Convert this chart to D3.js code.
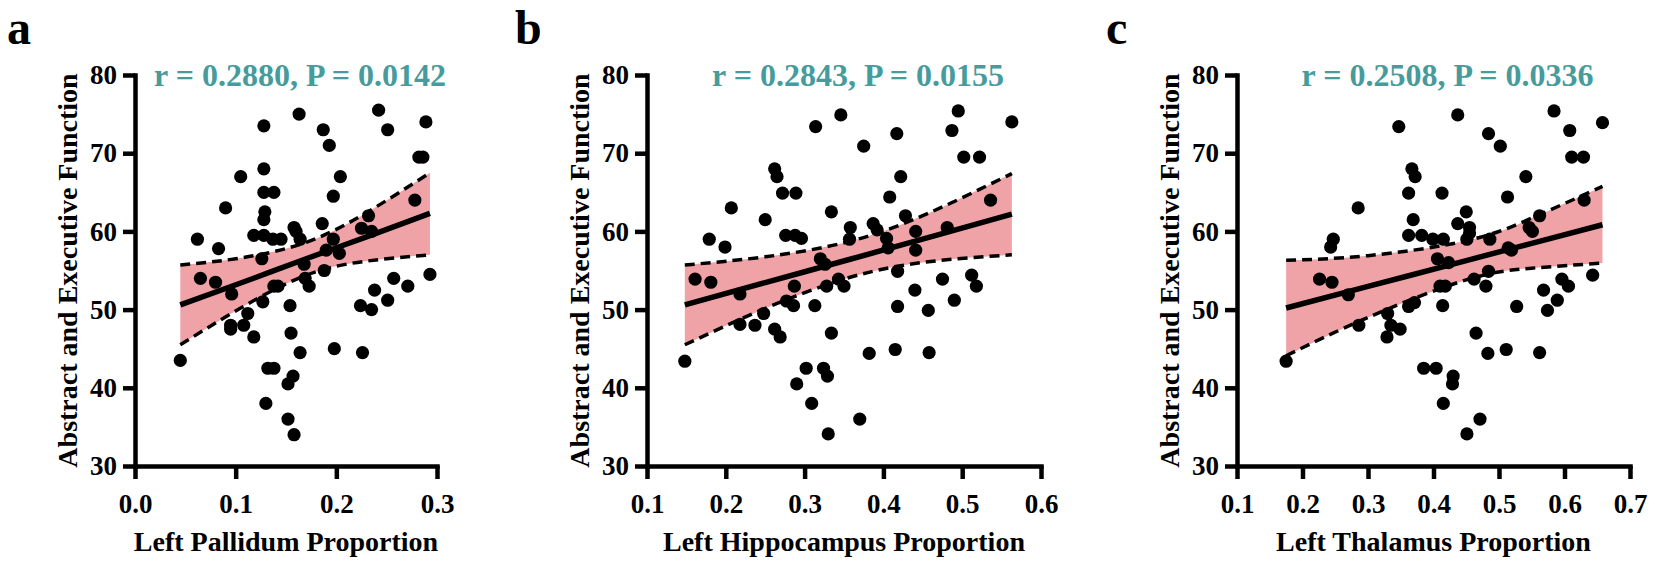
<!DOCTYPE html>
<html>
<head>
<meta charset="utf-8">
<script src="https://cdn.jsdelivr.net/npm/d3@7"></script>
<style>
  body { margin: 0; background: #fff; }
  svg { display: block; }
</style>
</head>
<body>
<div id="chart"></div>
<script>
'use strict'

// the data
const panelLetters = ['a', 'b', 'c']
const xTitles = ['Left Pallidum Proportion', 'Left Hippocampus Proportion', 'Left Thalamus Proportion']
const yTitle = 'Abstract and Executive Function'
const statLabels = ['r = 0.2880, P = 0.0142', 'r = 0.2843, P = 0.0155', 'r = 0.2508, P = 0.0336']
const yTicks = [30, 40, 50, 60, 70, 80]
const xTicks = [
    [0.0, 0.1, 0.2, 0.3],
    [0.1, 0.2, 0.3, 0.4, 0.5, 0.6],
    [0.1, 0.2, 0.3, 0.4, 0.5, 0.6, 0.7]
]

const pallidumX = [0.045, 0.062, 0.065, 0.083, 0.080, 0.090, 0.096, 0.095, 0.095, 0.105,
    0.108, 0.112, 0.118, 0.118, 0.126, 0.127, 0.128, 0.128, 0.128, 0.138,
    0.129, 0.128, 0.128, 0.137, 0.145, 0.130, 0.132, 0.138, 0.138, 0.142,
    0.154, 0.155, 0.152, 0.157, 0.152, 0.158, 0.164, 0.163, 0.158, 0.160,
    0.164, 0.168, 0.169, 0.173, 0.187, 0.193, 0.204, 0.197, 0.186, 0.197,
    0.190, 0.203, 0.188, 0.198, 0.225, 0.232, 0.235, 0.224, 0.226, 0.235,
    0.238, 0.251, 0.257, 0.271, 0.242, 0.251, 0.289, 0.282, 0.286, 0.278, 0.293]
const pallidumY = [43.5, 59.0, 54.0, 57.8, 53.5, 63.0, 52.0, 48.0, 47.5, 67.0,
    48.0, 49.5, 46.5, 59.5, 56.5, 51.0, 73.5, 68.0, 65.0, 65.0,
    62.5, 61.5, 59.5, 59.0, 59.0, 38.0, 42.5, 42.5, 53.0, 53.0,
    50.5, 47.0, 40.5, 41.5, 36.0, 34.0, 44.5, 75.0, 60.5, 60.0,
    59.0, 55.8, 54.0, 53.0, 73.0, 71.0, 67.0, 64.5, 61.0, 59.0,
    57.6, 57.2, 55.0, 45.0, 60.4, 62.0, 60.0, 50.5, 44.5, 50.0,
    52.5, 51.2, 54.0, 53.0, 75.5, 73.0, 74.0, 69.5, 69.5, 64.0, 54.5]

const hippocampusX = [0.179, 0.199, 0.207, 0.250, 0.262, 0.265, 0.272, 0.289, 0.276, 0.288,
    0.296, 0.314, 0.346, 0.334, 0.358, 0.357, 0.320, 0.326, 0.375, 0.387,
    0.392, 0.404, 0.406, 0.408, 0.417, 0.422, 0.428, 0.441, 0.441, 0.487,
    0.495, 0.502, 0.522, 0.481, 0.536, 0.563, 0.148, 0.161, 0.181, 0.218,
    0.218, 0.237, 0.248, 0.262, 0.269, 0.277, 0.286, 0.287, 0.313, 0.328,
    0.343, 0.350, 0.334, 0.290, 0.302, 0.309, 0.324, 0.329, 0.330, 0.370,
    0.382, 0.415, 0.418, 0.418, 0.440, 0.457, 0.458, 0.475, 0.490, 0.512, 0.518]
const hippocampusY = [59.0, 58.0, 63.0, 61.5, 68.0, 67.0, 64.9, 64.9, 59.5, 59.5,
    59.1, 73.4, 74.9, 62.5, 60.5, 59.0, 56.5, 55.8, 70.9, 61.0,
    60.2, 59.1, 57.9, 64.4, 72.5, 67.0, 62.0, 60.0, 57.6, 72.9,
    75.4, 69.5, 69.5, 60.5, 64.0, 74.0, 43.4, 53.9, 53.5, 52.0,
    48.1, 48.0, 49.5, 47.5, 46.5, 51.1, 50.5, 53.0, 50.5, 53.0,
    53.9, 53.0, 47.0, 40.5, 42.5, 38.0, 42.5, 41.5, 34.1, 36.0,
    44.4, 44.9, 50.4, 54.9, 52.5, 49.9, 44.5, 53.9, 51.2, 54.4, 53.0]

const thalamusX = [0.247, 0.243, 0.285, 0.347, 0.367, 0.372, 0.362, 0.369, 0.362, 0.382,
    0.399, 0.415, 0.413, 0.406, 0.423, 0.437, 0.437, 0.450, 0.455, 0.455,
    0.451, 0.484, 0.502, 0.486, 0.513, 0.514, 0.519, 0.541, 0.546, 0.551,
    0.562, 0.584, 0.608, 0.611, 0.629, 0.630, 0.658, 0.175, 0.226, 0.245,
    0.270, 0.286, 0.330, 0.335, 0.329, 0.349, 0.362, 0.371, 0.385, 0.404,
    0.414, 0.410, 0.418, 0.430, 0.429, 0.415, 0.451, 0.471, 0.465, 0.462,
    0.480, 0.484, 0.483, 0.511, 0.527, 0.562, 0.568, 0.574, 0.589, 0.596, 0.606, 0.643]
const thalamusY = [59.0, 58.0, 63.0, 73.4, 68.0, 67.0, 64.9, 61.5, 59.5, 59.5,
    59.0, 59.0, 64.9, 56.5, 56.0, 74.9, 61.0, 62.5, 60.5, 59.8,
    59.0, 72.5, 70.9, 59.0, 64.4, 57.9, 57.6, 67.0, 60.5, 60.0,
    62.0, 75.4, 72.9, 69.5, 69.5, 64.0, 73.9, 43.4, 53.9, 53.5,
    51.9, 48.0, 49.5, 48.0, 46.5, 47.5, 50.4, 50.9, 42.5, 42.5,
    50.5, 53.0, 53.0, 41.5, 40.5, 38.0, 34.1, 36.0, 47.0, 53.9,
    53.0, 54.9, 44.4, 44.9, 50.4, 44.5, 52.5, 49.9, 51.2, 53.9, 53.0, 54.4]

// fitted line and 95% band, read at a few x positions
const pallidumFitX = [0.045, 0.105, 0.17, 0.23, 0.293]
const pallidumFit = [50.6, 53.4, 56.5, 59.3, 62.3]
const pallidumUpper = [55.7, 56.6, 58.6, 62.4, 67.5]
const pallidumLower = [45.5, 50.2, 54.4, 56.2, 57.0]

const hippocampusFitX = [0.148, 0.25, 0.36, 0.46, 0.563]
const hippocampusFit = [50.6, 53.45, 56.5, 59.3, 62.2]
const hippocampusUpper = [55.7, 56.75, 58.8, 62.45, 67.4]
const hippocampusLower = [45.5, 50.15, 54.2, 56.15, 57.0]

const thalamusFitX = [0.175, 0.30, 0.45, 0.55, 0.658]
const thalamusFit = [50.2, 52.96, 56.27, 58.48, 60.85]
const thalamusUpper = [56.3, 56.9, 58.8, 61.7, 65.75]
const thalamusLower = [44.1, 49.0, 53.8, 55.3, 55.95]

const panelData = [
    { xs: pallidumX, ys: pallidumY, fx: pallidumFitX, fit: pallidumFit, up: pallidumUpper, lo: pallidumLower },
    { xs: hippocampusX, ys: hippocampusY, fx: hippocampusFitX, fit: hippocampusFit, up: hippocampusUpper, lo: hippocampusLower },
    { xs: thalamusX, ys: thalamusY, fx: thalamusFitX, fit: thalamusFit, up: thalamusUpper, lo: thalamusLower }
]

// layout
const width = 1654
const height = 566
const plotTop = 75
const plotBottom = 466
const panelBox = [
    { left: 135, right: 437, letterX: 7 },
    { left: 647, right: 1041, letterX: 515 },
    { left: 1237, right: 1630, letterX: 1106 }
]
const font = '"Liberation Serif", "Times New Roman", Times, serif'
const teal = '#479b9c'
const pink = '#efa3a7'

const svg = d3.select('#chart').append('svg')
    .attr('width', width)
    .attr('height', height)

var y = d3.scaleLinear().domain([30, 80]).range([plotBottom, plotTop])

panelData.forEach((d, i) => {
    let box = panelBox[i]
    let ticks = xTicks[i]
    let x = d3.scaleLinear()
        .domain([ticks[0], ticks[ticks.length - 1]])
        .range([box.left, box.right])
    let g = svg.append('g')

    // band
    let idx = d3.range(d.fx.length)
    let band = d3.area()
        .x(k => x(d.fx[k]))
        .y0(k => y(d.lo[k]))
        .y1(k => y(d.up[k]))
        .curve(d3.curveNatural)
    g.append('path')
        .datum(idx)
        .attr('fill', pink)
        .attr('d', band)

    // dashed band edges
    let edge = (arr) => d3.line()
        .x(k => x(d.fx[k]))
        .y(k => y(arr[k]))
        .curve(d3.curveNatural)
    ;[d.up, d.lo].forEach(arr => {
        g.append('path')
            .datum(idx)
            .attr('fill', 'none')
            .attr('stroke', '#000')
            .attr('stroke-width', 3.5)
            .attr('stroke-dasharray', '10,6')
            .attr('d', edge(arr))
    })

    // fit line
    g.append('path')
        .datum(idx)
        .attr('fill', 'none')
        .attr('stroke', '#000')
        .attr('stroke-width', 5.5)
        .attr('d', edge(d.fit))

    // points
    g.selectAll('circle')
        .data(d.xs.map((v, k) => [v, d.ys[k]]))
        .join('circle')
        .attr('cx', p => x(p[0]))
        .attr('cy', p => y(p[1]))
        .attr('r', 6.6)
        .attr('fill', '#000')

    // axes
    let yAxis = g.append('g')
        .attr('transform', 'translate(' + box.left + ',0)')
        .call(d3.axisLeft(y).tickValues(yTicks).tickSize(12).tickSizeOuter(0).tickPadding(6))
    let xAxis = g.append('g')
        .attr('transform', 'translate(0,' + plotBottom + ')')
        .call(d3.axisBottom(x).tickValues(ticks).tickSize(13).tickSizeOuter(0).tickFormat(d3.format('.1f')))
    ;[yAxis, xAxis].forEach(ax => {
        ax.select('.domain').attr('stroke-width', 4.5).attr('stroke-linecap', 'square')
        ax.selectAll('.tick line').attr('stroke-width', 4.5)
        ax.selectAll('text')
            .attr('font-family', font)
            .attr('font-weight', 'bold')
            .attr('font-size', 27)
            .attr('fill', '#000')
    })
    xAxis.selectAll('text').attr('y', 47).attr('dy', 0)

    // titles
    let mid = (box.left + box.right) / 2
    g.append('text')
        .attr('x', mid)
        .attr('y', 551)
        .attr('text-anchor', 'middle')
        .attr('font-family', font)
        .attr('font-weight', 'bold')
        .attr('font-size', 28)
        .text(xTitles[i])
    g.append('text')
        .attr('transform', 'translate(' + (box.left - 58) + ',' + ((plotTop + plotBottom) / 2) + ') rotate(-90)')
        .attr('text-anchor', 'middle')
        .attr('font-family', font)
        .attr('font-weight', 'bold')
        .attr('font-size', 28)
        .text(yTitle)
    g.append('text')
        .attr('x', mid + 14)
        .attr('y', 86)
        .attr('text-anchor', 'middle')
        .attr('font-family', font)
        .attr('font-weight', 'bold')
        .attr('font-size', 32)
        .attr('fill', teal)
        .text(statLabels[i])
    g.append('text')
        .attr('x', box.letterX)
        .attr('y', 44)
        .attr('font-family', font)
        .attr('font-weight', 'bold')
        .attr('font-size', 48)
        .text(panelLetters[i])
})
</script>
</body>
</html>
